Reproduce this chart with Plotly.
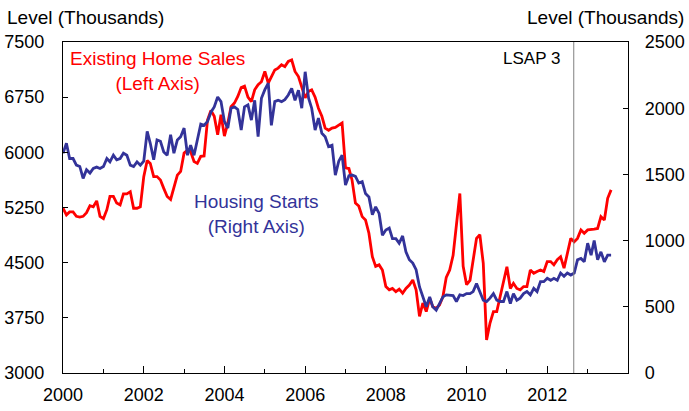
import pandas as pd
import plotly.graph_objects as go

# Monthly data, Jan 2000 - Aug 2013 (thousands, SAAR)
months = pd.date_range("2000-01-01", periods=164, freq="MS")

existing_home_sales = [
    5240, 5150, 5190, 5190, 5130, 5120, 5130, 5180, 5275, 5260, 5340, 5130,
    5100, 5220, 5400, 5400, 5310, 5285, 5435, 5435, 5465, 5240, 5240, 5260,
    5670, 5890, 5850, 5670, 5670, 5625, 5510, 5400, 5360, 5510, 5690, 5740,
    5990, 6030, 6010, 5875, 5850, 5945, 5950, 6440, 6570, 6490, 6240, 6510,
    6220, 6400, 6620, 6670, 6760, 6880, 6900, 6750, 6690, 6850, 6920, 6960,
    7100, 6940, 7030, 7120, 7145, 7190, 7165, 7235, 7255, 7100, 7030, 6900,
    6740, 6830, 6850, 6750, 6600, 6490, 6330, 6300, 6330, 6340, 6370, 6400,
    5790, 5780, 5625, 5310, 5270, 5126, 5080, 4900, 4580, 4450, 4470, 4400,
    4175, 4130, 4150, 4105, 4140, 4085, 4150, 4195, 4265, 4130, 3770, 3950,
    3835, 4015, 3900, 3880, 3925, 4040, 4300, 4400, 4600, 5000, 5440, 4450,
    4200, 4260, 4540, 4830, 4880, 4490, 3450, 3680, 3835, 3835, 4040, 4265,
    4445, 4150, 4220, 4150, 4130, 4175, 4175, 4400, 4355, 4380, 4400, 4380,
    4515, 4515, 4470, 4540, 4580, 4425, 4630, 4830, 4785, 4830, 4945, 4900,
    4945, 4945, 4955, 4965, 5125, 5080, 5375, 5490,
]

housing_starts = [
    1660, 1735, 1620, 1620, 1570, 1560, 1470, 1535, 1510, 1545, 1555, 1545,
    1560, 1620, 1595, 1645, 1610, 1620, 1660, 1645, 1570, 1560, 1595, 1570,
    1600, 1825, 1735, 1610, 1760, 1750, 1670, 1645, 1800, 1660, 1760, 1785,
    1850, 1645, 1720, 1645, 1760, 1880, 1870, 1900, 1970, 2010, 2085, 2050,
    1900, 1850, 2000, 2010, 1990, 1835, 2010, 2025, 1910, 2060, 1785, 2075,
    2140, 2190, 1870, 2050, 2060, 2050, 2065, 2100, 2150, 2060, 2135, 2000,
    2275, 2075, 2000, 1835, 1925, 1810, 1785, 1710, 1720, 1495, 1600, 1645,
    1420, 1490, 1495, 1485, 1435, 1445, 1355, 1330, 1195, 1255, 1205, 1040,
    1080, 1095, 1015, 1015, 980, 1035, 915, 855, 830, 780, 650, 575,
    500, 575, 500, 475, 525, 575, 590, 590, 585, 540, 590, 585,
    600, 600, 615, 675, 620, 550, 540, 565, 600, 550, 540, 540,
    615, 525, 600, 550, 565, 600, 615, 590, 640, 615, 690, 690,
    715, 700, 715, 700, 755, 730, 755, 740, 755, 855, 865, 840,
    980, 890, 1000, 855, 915, 840, 890, 890,
]

left_ticks = [3000, 3750, 4500, 5250, 6000, 6750, 7500]
right_ticks = [0, 500, 1000, 1500, 2000, 2500]
year_ticks = ["2000", "2002", "2004", "2006", "2008", "2010", "2012"]
lsap3_date = "2012-08-28"

RED = "#FF0000"
BLUE = "#333399"
FONT = "Liberation Sans, Arial, sans-serif"
FS = 18
FA = 19

fig = go.Figure()
fig.add_trace(go.Scatter(x=months, y=housing_starts, mode="lines", yaxis="y2",
                         line=dict(color=BLUE, width=2.8), name="Housing Starts"))
fig.add_trace(go.Scatter(x=months, y=existing_home_sales, mode="lines", yaxis="y",
                         line=dict(color=RED, width=2.8), name="Existing Home Sales"))

W, H = 689, 411
L, R, T, B = 63, 61, 42, 38
pw, ph = W - L - R, H - T - B

def px(xp):
    return (xp - L) / pw

def py(yp):
    return (H - B - yp) / ph

fig.update_layout(
    width=W, height=H,
    margin=dict(l=L, r=R, t=T, b=B, autoexpand=False),
    paper_bgcolor="white", plot_bgcolor="white",
    showlegend=False,
    font=dict(family=FONT, size=FS, color="black"),
    xaxis=dict(
        type="date",
        range=["2000-01-01", "2014-01-01"],
        tickvals=[y + "-01-01" for y in year_ticks],
        ticktext=year_ticks,
        ticks="inside", ticklen=7, tickcolor="black", tickwidth=1,
        minor=dict(dtick="M12", ticks="inside", ticklen=4, tickcolor="black", tickwidth=1),
        showline=True, linecolor="black", linewidth=1.3, mirror=True,
        showgrid=False, zeroline=False, automargin=False,
        ticklabelstandoff=5,
        tickfont=dict(size=FS),
    ),
    yaxis=dict(
        range=[3000, 7500],
        tickvals=left_ticks,
        ticks="inside", ticklen=5, tickcolor="black",
        showline=True, linecolor="black", linewidth=1.3,
        showgrid=False, zeroline=False, automargin=False,
        ticklabelstandoff=14,
        tickfont=dict(size=FS),
    ),
    yaxis2=dict(
        range=[0, 2500],
        tickvals=right_ticks,
        overlaying="y", side="right",
        ticks="inside", ticklen=5, tickcolor="black",
        showline=True, linecolor="black", linewidth=1.3,
        showgrid=False, zeroline=False, automargin=False,
        ticklabelstandoff=12,
        tickfont=dict(size=FS),
    ),
    shapes=[dict(type="line", xref="x", yref="paper", x0=lsap3_date, x1=lsap3_date,
                 y0=0, y1=1, line=dict(color="#808080", width=1))],
    annotations=[
        dict(text="Level (Thousands)", xref="paper", yref="paper", x=px(5), y=py(17),
             xanchor="left", yanchor="middle", showarrow=False, font=dict(size=FA)),
        dict(text="Level (Thousands)", xref="paper", yref="paper", x=px(686), y=py(17),
             xanchor="right", yanchor="middle", showarrow=False, font=dict(size=FA)),
        dict(text="Existing Home Sales<br>(Left Axis)", xref="paper", yref="paper",
             x=px(157), y=py(71), xanchor="center", yanchor="middle", showarrow=False,
             font=dict(size=FA, color=RED)),
        dict(text="Housing Starts<br>(Right Axis)", xref="paper", yref="paper",
             x=px(256), y=py(214), xanchor="center", yanchor="middle", showarrow=False,
             font=dict(size=FA, color=BLUE)),
        dict(text="LSAP 3", xref="paper", yref="paper", x=px(562), y=py(58),
             xanchor="right", yanchor="middle", showarrow=False, font=dict(size=17)),
    ],
)

fig.write_html("out.html",
               config={"displayModeBar": False},
               post_script="document.body.style.margin='0';document.body.style.overflow='hidden';")
